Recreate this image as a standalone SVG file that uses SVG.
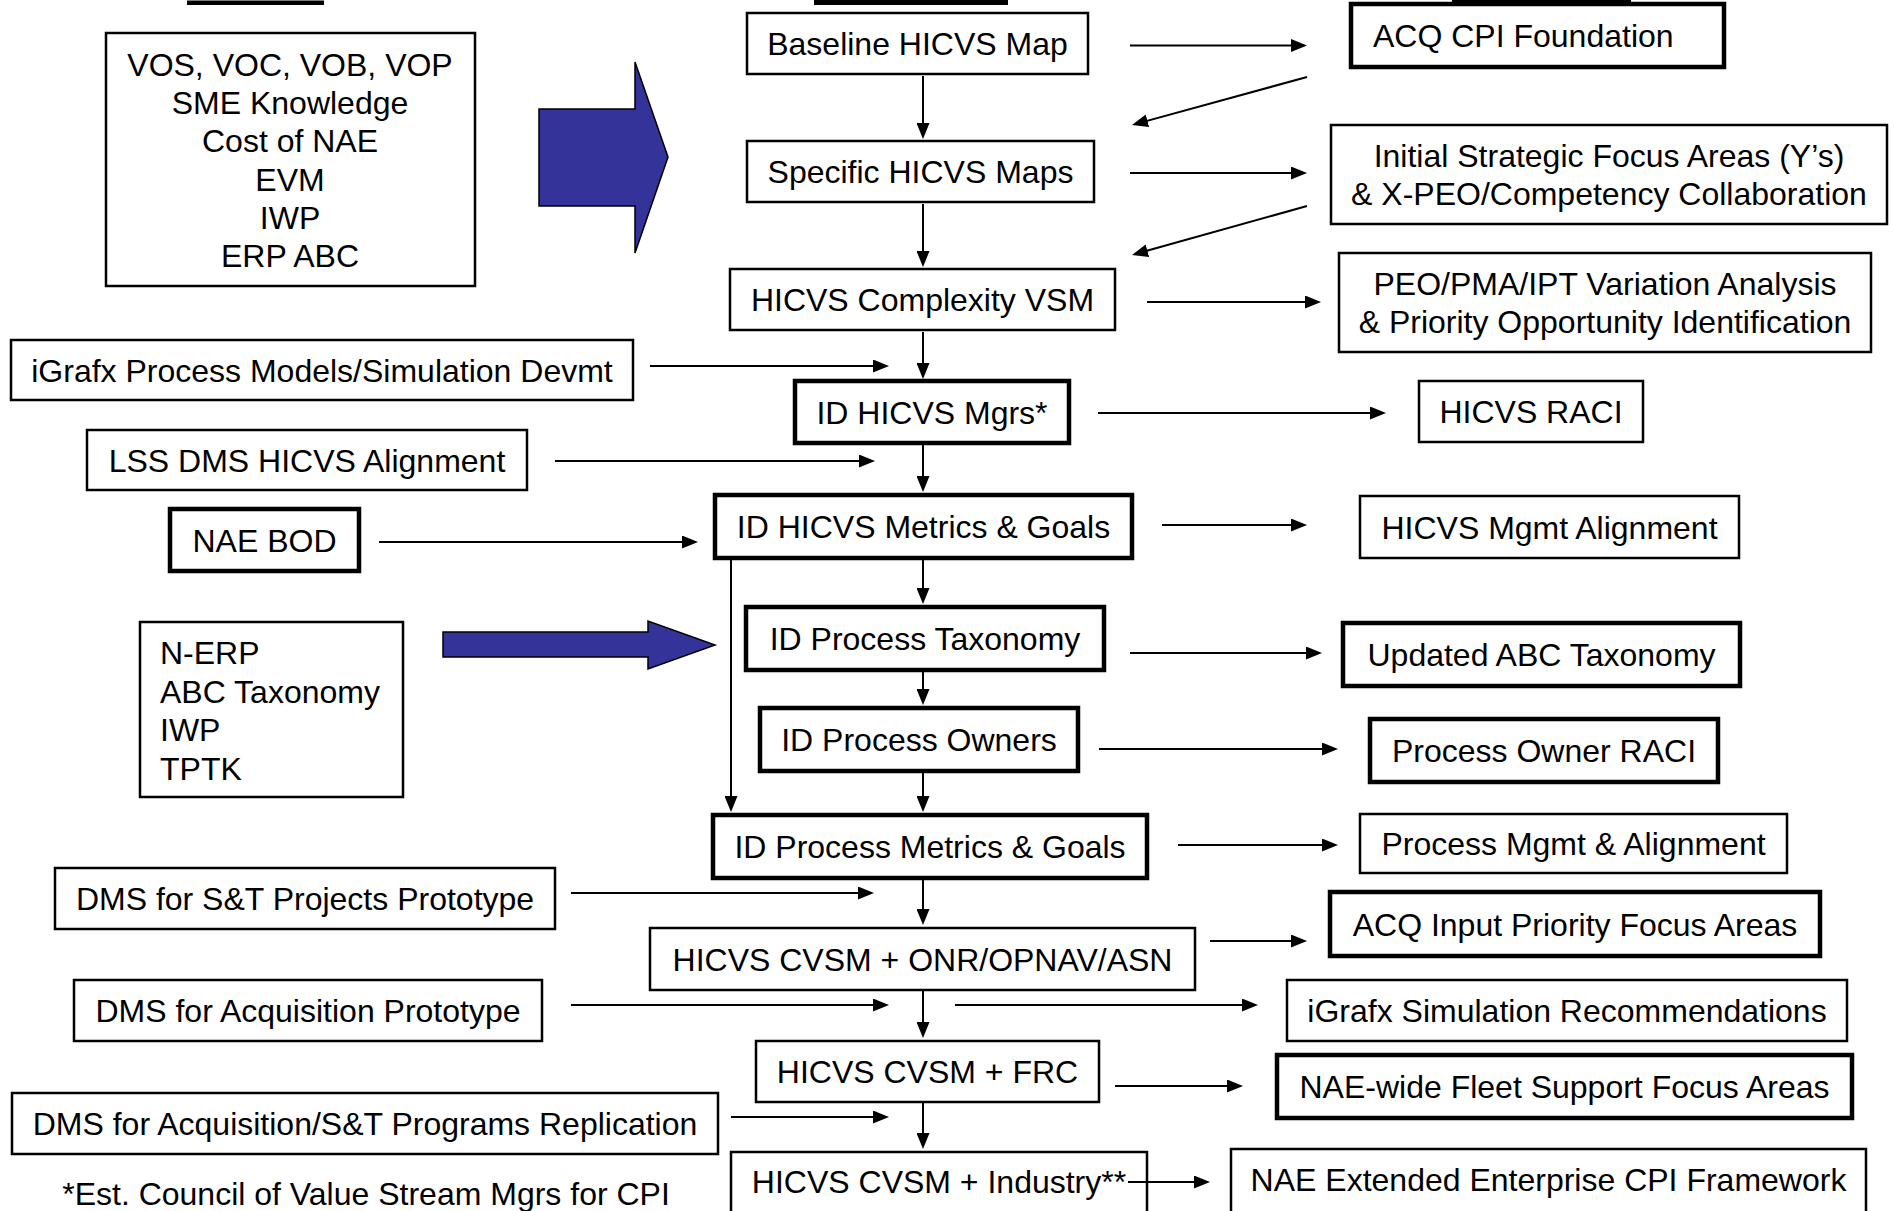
<svg xmlns="http://www.w3.org/2000/svg" width="1894" height="1211" viewBox="0 0 1894 1211">
  <defs>
    <marker id="arr" markerUnits="userSpaceOnUse" markerWidth="16" markerHeight="13" refX="8" refY="6.5" orient="auto">
      <path d="M0,0 L16,6.5 L0,13 z" fill="#000"/>
    </marker>
    <style>
      .t { font-family: "Liberation Sans", Arial, Helvetica, sans-serif; font-size: 32px; fill: #000; }
      .c { text-anchor: middle; }
      .thin { fill: #fff; stroke: #000; stroke-width: 2.5; }
      .thick { fill: #fff; stroke: #000; stroke-width: 4.5; }
      .blk { fill: #333399; stroke: #000; stroke-width: 1.5; }
      .ln { stroke: #000; stroke-width: 2; fill: none; marker-end: url(#arr); }
    </style>
  </defs>
  <rect width="1894" height="1211" fill="#fff"/>

  <!-- header underlines along the top edge -->
  <g id="header-rules" fill="#000">
    <rect x="187" y="0.5" width="137" height="4.5"/>
    <rect x="814" y="0" width="194" height="5"/>
    <rect x="1452" y="0" width="179" height="3.5"/>
  </g>

  <!-- connectors -->
  <g id="connectors">
    <!-- main spine -->
    <line class="ln" x1="923" y1="76" x2="923" y2="131"/>
    <line class="ln" x1="923" y1="204" x2="923" y2="259"/>
    <line class="ln" x1="923" y1="332" x2="923" y2="371"/>
    <line class="ln" x1="923" y1="445" x2="923" y2="484"/>
    <line class="ln" x1="923" y1="560" x2="923" y2="596"/>
    <line class="ln" x1="923" y1="672" x2="923" y2="697"/>
    <line class="ln" x1="923" y1="773" x2="923" y2="804"/>
    <line class="ln" x1="923" y1="880" x2="923" y2="917"/>
    <line class="ln" x1="923" y1="991" x2="923" y2="1030"/>
    <line class="ln" x1="923" y1="1103" x2="923" y2="1141"/>
    <line class="ln" x1="731" y1="560" x2="731" y2="804"/>
    <!-- outputs to the right -->
    <line class="ln" x1="1130" y1="45.5" x2="1299" y2="45.5"/>
    <line class="ln" x1="1130" y1="173" x2="1299" y2="173"/>
    <line class="ln" x1="1147" y1="302" x2="1313" y2="302"/>
    <line class="ln" x1="1098" y1="413" x2="1378" y2="413"/>
    <line class="ln" x1="1162" y1="525" x2="1299" y2="525"/>
    <line class="ln" x1="1130" y1="653" x2="1314" y2="653"/>
    <line class="ln" x1="1099" y1="749" x2="1330" y2="749"/>
    <line class="ln" x1="1178" y1="845" x2="1330" y2="845"/>
    <line class="ln" x1="1210" y1="941" x2="1299" y2="941"/>
    <line class="ln" x1="955" y1="1005" x2="1250" y2="1005"/>
    <line class="ln" x1="1115" y1="1086" x2="1235" y2="1086"/>
    <line class="ln" x1="1130" y1="1182" x2="1202" y2="1182"/>
    <!-- feedback from the right column -->
    <line class="ln" x1="1307" y1="77" x2="1139.7" y2="122.9"/>
    <line class="ln" x1="1307" y1="206" x2="1139.7" y2="252.8"/>
    <!-- inputs from the left -->
    <line class="ln" x1="650" y1="366" x2="881" y2="366"/>
    <line class="ln" x1="555" y1="461" x2="867" y2="461"/>
    <line class="ln" x1="379" y1="542" x2="690" y2="542"/>
    <line class="ln" x1="571" y1="893" x2="866" y2="893"/>
    <line class="ln" x1="571" y1="1005" x2="881" y2="1005"/>
    <line class="ln" x1="731" y1="1117" x2="881" y2="1117"/>
  </g>

  <!-- left column -->
  <g id="inputs-voice">
    <rect class="thin" x="106" y="33" width="369" height="253"/>
    <text class="t c" x="290" y="76">VOS, VOC, VOB, VOP</text>
    <text class="t c" x="290" y="114.2">SME Knowledge</text>
    <text class="t c" x="290" y="152.4">Cost of NAE</text>
    <text class="t c" x="290" y="190.6">EVM</text>
    <text class="t c" x="290" y="228.8">IWP</text>
    <text class="t c" x="290" y="267">ERP ABC</text>
  </g>
  <g id="block-arrow-1">
    <polygon class="blk" points="539,109 635,109 635,62 668,157 635,253 635,206 539,206"/>
  </g>
  <g id="igrafx-models">
    <rect class="thin" x="11" y="340" width="622" height="60"/>
    <text class="t c" x="322" y="381.5">iGrafx Process Models/Simulation Devmt</text>
  </g>
  <g id="lss-dms">
    <rect class="thin" x="87" y="430" width="440" height="60"/>
    <text class="t c" x="307" y="471.5">LSS DMS HICVS Alignment</text>
  </g>
  <g id="nae-bod">
    <rect class="thick" x="170" y="509" width="189" height="62"/>
    <text class="t c" x="264.5" y="551.5">NAE BOD</text>
  </g>
  <g id="inputs-erp">
    <rect class="thin" x="140" y="622" width="263" height="175"/>
    <text class="t" x="160" y="664">N-ERP</text>
    <text class="t" x="160" y="702.5">ABC Taxonomy</text>
    <text class="t" x="160" y="741">IWP</text>
    <text class="t" x="160" y="779.5">TPTK</text>
  </g>
  <g id="block-arrow-2">
    <polygon class="blk" points="443,632 648,632 648,621 715,645 648,669 648,657 443,657"/>
  </g>
  <g id="dms-st">
    <rect class="thin" x="55" y="868" width="500" height="61"/>
    <text class="t c" x="305" y="910">DMS for S&amp;T Projects Prototype</text>
  </g>
  <g id="dms-acq">
    <rect class="thin" x="74" y="980" width="468" height="61"/>
    <text class="t c" x="308" y="1022">DMS for Acquisition Prototype</text>
  </g>
  <g id="dms-replication">
    <rect class="thin" x="12" y="1093" width="706" height="61"/>
    <text class="t c" x="365" y="1135">DMS for Acquisition/S&amp;T Programs Replication</text>
  </g>
  <g id="footnote">
    <text class="t c" x="366" y="1205">*Est. Council of Value Stream Mgrs for CPI</text>
  </g>

  <!-- centre column -->
  <g id="baseline-map">
    <rect class="thin" x="747" y="13" width="341" height="61"/>
    <text class="t c" x="917.5" y="55">Baseline HICVS Map</text>
  </g>
  <g id="specific-maps">
    <rect class="thin" x="747" y="141" width="347" height="61"/>
    <text class="t c" x="920.5" y="183">Specific HICVS Maps</text>
  </g>
  <g id="complexity-vsm">
    <rect class="thin" x="730" y="269" width="385" height="61"/>
    <text class="t c" x="922.5" y="311">HICVS Complexity VSM</text>
  </g>
  <g id="id-mgrs">
    <rect class="thick" x="795" y="381" width="274" height="62"/>
    <text class="t c" x="932" y="423.5">ID HICVS Mgrs*</text>
  </g>
  <g id="id-hicvs-metrics">
    <rect class="thick" x="715" y="495" width="417" height="63"/>
    <text class="t c" x="923.5" y="538">ID HICVS Metrics &amp; Goals</text>
  </g>
  <g id="id-taxonomy">
    <rect class="thick" x="746" y="607" width="358" height="63"/>
    <text class="t c" x="925" y="650">ID Process Taxonomy</text>
  </g>
  <g id="id-owners">
    <rect class="thick" x="760" y="708" width="318" height="63"/>
    <text class="t c" x="919" y="751">ID Process Owners</text>
  </g>
  <g id="id-process-metrics">
    <rect class="thick" x="713" y="815" width="434" height="63"/>
    <text class="t c" x="930" y="858">ID Process Metrics &amp; Goals</text>
  </g>
  <g id="cvsm-onr">
    <rect class="thin" x="650" y="928" width="545" height="62"/>
    <text class="t c" x="922.5" y="970.5">HICVS CVSM + ONR/OPNAV/ASN</text>
  </g>
  <g id="cvsm-frc">
    <rect class="thin" x="756" y="1041" width="343" height="61"/>
    <text class="t c" x="927.5" y="1083">HICVS CVSM + FRC</text>
  </g>
  <g id="cvsm-industry">
    <rect class="thin" x="731" y="1152" width="416" height="70"/>
    <text class="t c" x="939" y="1193">HICVS CVSM + Industry**</text>
    <line x1="1128" y1="1182" x2="1147" y2="1182" stroke="#000" stroke-width="2"/>
  </g>

  <!-- right column -->
  <g id="acq-cpi">
    <rect class="thick" x="1351" y="4" width="373" height="63"/>
    <text class="t" x="1373" y="47">ACQ CPI Foundation</text>
  </g>
  <g id="strategic-focus">
    <rect class="thin" x="1331" y="125" width="556" height="99"/>
    <text class="t c" x="1609" y="167">Initial Strategic Focus Areas (Y’s)</text>
    <text class="t c" x="1609" y="205">&amp; X-PEO/Competency Collaboration</text>
  </g>
  <g id="variation-analysis">
    <rect class="thin" x="1339" y="253" width="532" height="99"/>
    <text class="t c" x="1605" y="295">PEO/PMA/IPT Variation Analysis</text>
    <text class="t c" x="1605" y="333">&amp; Priority Opportunity Identification</text>
  </g>
  <g id="hicvs-raci">
    <rect class="thin" x="1419" y="381" width="224" height="61"/>
    <text class="t c" x="1531" y="423">HICVS RACI</text>
  </g>
  <g id="mgmt-alignment">
    <rect class="thin" x="1360" y="496" width="379" height="62"/>
    <text class="t c" x="1549.5" y="538.5">HICVS Mgmt Alignment</text>
  </g>
  <g id="abc-taxonomy">
    <rect class="thick" x="1343" y="623" width="397" height="63"/>
    <text class="t c" x="1541.5" y="666">Updated ABC Taxonomy</text>
  </g>
  <g id="owner-raci">
    <rect class="thick" x="1370" y="719" width="348" height="63"/>
    <text class="t c" x="1544" y="762">Process Owner RACI</text>
  </g>
  <g id="process-mgmt">
    <rect class="thin" x="1360" y="814" width="427" height="59"/>
    <text class="t c" x="1573.5" y="855">Process Mgmt &amp; Alignment</text>
  </g>
  <g id="acq-input">
    <rect class="thick" x="1330" y="892" width="490" height="64"/>
    <text class="t c" x="1575" y="935.5">ACQ Input Priority Focus Areas</text>
  </g>
  <g id="igrafx-recommendations">
    <rect class="thin" x="1287" y="980" width="560" height="61"/>
    <text class="t c" x="1567" y="1022">iGrafx Simulation Recommendations</text>
  </g>
  <g id="fleet-support">
    <rect class="thick" x="1277" y="1055" width="575" height="63"/>
    <text class="t c" x="1564.5" y="1098">NAE-wide Fleet Support Focus Areas</text>
  </g>
  <g id="extended-enterprise">
    <rect class="thin" x="1231" y="1149" width="635" height="70"/>
    <text class="t c" x="1548.5" y="1191">NAE Extended Enterprise CPI Framework</text>
  </g>
</svg>
